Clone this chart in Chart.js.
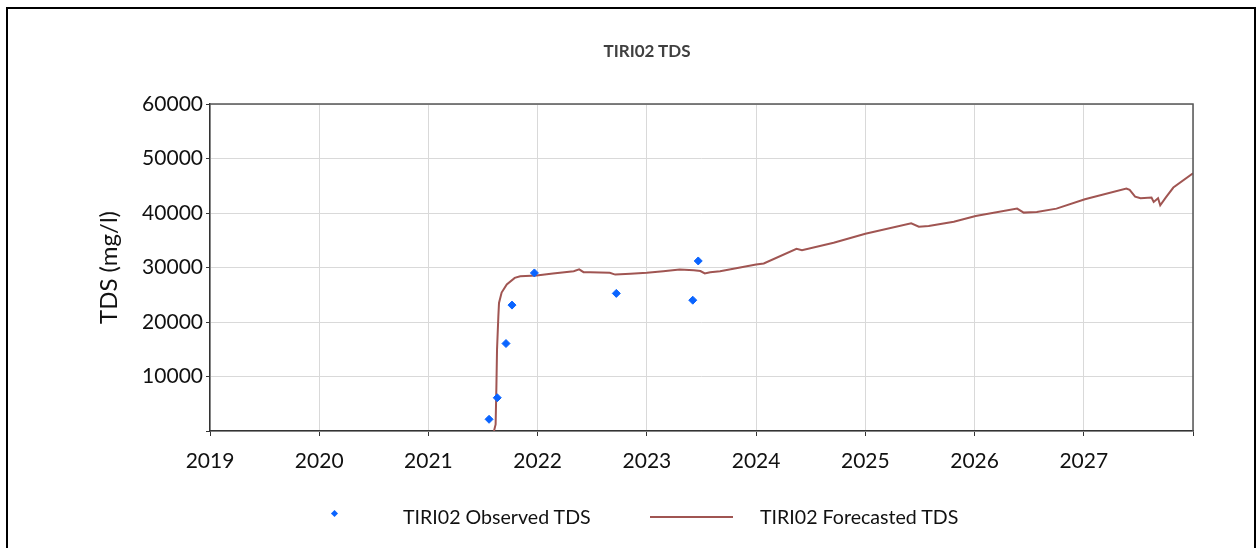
<!DOCTYPE html>
<html>
<head>
<meta charset="utf-8">
<script src="https://cdn.jsdelivr.net/npm/chart.js@4.4.0/dist/chart.umd.min.js"></script>
<style>
  body { margin: 0; background: #fff; font-family: Lato, "Open Sans", sans-serif; }
  #wrap { position: relative; width: 1257px; height: 548px; overflow: hidden; }
  #frame { position: absolute; left: 6px; top: 7px; width: 1246px; height: 560px; border: 2px solid #000; }
  #chart { position: absolute; left: 0; top: 0; }
  #title { position: absolute; left: 647px; top: 40px; transform: translateX(-50%); font: bold 17px Lato, sans-serif; color: #404040; white-space: nowrap; }
  .leg { position: absolute; font-size: 19.6px; color: #111; white-space: nowrap; top: 505px; }
  #diamond { position: absolute; left: 332px; top: 511px; width: 5px; height: 5px; background: #0a64ff; transform: rotate(45deg); }
  #legline { position: absolute; left: 650px; top: 516px; width: 83px; height: 2px; background: #a05552; }
</style>
</head>
<body>
<div id="wrap">
  <div id="frame"></div>
  <canvas id="chart" width="1257" height="548"></canvas>
  <div id="title">TIRI02 TDS</div>
  <div id="diamond"></div>
  <div class="leg" style="left:403px">TIRI02 Observed TDS</div>
  <div id="legline"></div>
  <div class="leg" style="left:760px">TIRI02 Forecasted TDS</div>
</div>
<script>
// observed samples (decimal year, mg/l)
var observedYears = [2021.555, 2021.63, 2021.71, 2021.765, 2021.97, 2022.72, 2023.42, 2023.47];
var observedTds = [2150, 6100, 16050, 23100, 29000, 25250, 24000, 31200];

// forecast curve (decimal year, mg/l)
var forecastYears = [2021.600, 2021.615, 2021.622, 2021.628, 2021.640, 2021.646, 2021.670, 2021.717,
    2021.790, 2021.840, 2021.990, 2022.140, 2022.330, 2022.380, 2022.420, 2022.480, 2022.660,
    2022.710, 2022.850, 2023.000, 2023.150, 2023.300, 2023.430, 2023.490, 2023.530, 2023.580,
    2023.670, 2024.000, 2024.070, 2024.370, 2024.420, 2024.710, 2025.000, 2025.420, 2025.490,
    2025.580, 2025.810, 2026.010, 2026.390, 2026.450, 2026.570, 2026.750, 2027.010, 2027.390,
    2027.420, 2027.470, 2027.520, 2027.620, 2027.640, 2027.680, 2027.700, 2027.750, 2027.820, 2028.000];
var forecastTds = [0, 1200, 8000, 15000, 21000, 23500, 25400, 26900,
    28100, 28400, 28550, 28900, 29330, 29650, 29150, 29150, 29020,
    28700, 28850, 29020, 29330, 29630, 29500, 29350, 28900, 29130,
    29330, 30550, 30740, 33440, 33190, 34550, 36200, 38100, 37500,
    37600, 38400, 39450, 40800, 40070, 40180, 40800, 42520, 44490,
    44230, 43010, 42700, 42830, 42020, 42700, 41410, 42830, 44670, 47300];

var yearMin = 2019, yearMax = 2028;
var tdsMax = 60000;

var observedPts = observedYears.map(function (y, i) { return { x: y, y: observedTds[i] }; });
var forecastPts = forecastYears.map(function (y, i) { return { x: y, y: forecastTds[i] }; });

// top and right edges of the plot box
var plotFrame = {
    id: 'plotFrame',
    afterDraw: function (chart) {
        var a = chart.chartArea, c = chart.ctx;
        c.save();
        c.strokeStyle = '#555';
        c.lineWidth = 1.5;
        c.beginPath();
        c.moveTo(a.left, a.top);
        c.lineTo(a.right, a.top);
        c.lineTo(a.right, a.bottom);
        c.stroke();
        c.restore();
    }
};

var ctx = document.getElementById('chart').getContext('2d');
var chart = new Chart(ctx, {
    type: 'scatter',
    data: {
        datasets: [{
            label: 'TIRI02 Observed TDS',
            data: observedPts,
            pointStyle: 'rectRot',
            pointRadius: 4,
            backgroundColor: '#0a64ff',
            borderColor: '#0a64ff',
            showLine: false,
            order: 0
        }, {
            label: 'TIRI02 Forecasted TDS',
            data: forecastPts,
            showLine: true,
            borderColor: '#a05552',
            borderWidth: 2,
            pointRadius: 0,
            tension: 0,
            order: 1
        }]
    },
    options: {
        responsive: false,
        animation: false,
        layout: { padding: { left: 0, right: 64, top: 104, bottom: 67 } },
        plugins: {
            legend: { display: false },
            tooltip: { enabled: false }
        },
        scales: {
            x: {
                type: 'linear',
                min: yearMin,
                max: yearMax,
                afterFit: function (s) { s.height = 50; },
                ticks: {
                    stepSize: 1,
                    padding: 13,
                    color: '#111',
                    font: { family: 'Lato', size: 21 },
                    maxRotation: 0,
                    callback: function (v) { return v < yearMax ? String(v) : ''; }
                },
                grid: { color: '#d9d9d9', tickColor: '#333', tickLength: 5 },
                border: { color: '#333', width: 1.5 }
            },
            y: {
                min: 0,
                max: tdsMax,
                afterFit: function (s) { s.width = 210; },
                ticks: {
                    stepSize: 5000,
                    padding: 3,
                    color: '#111',
                    font: { family: 'Lato', size: 21 },
                    callback: function (v) { return (v > 0 && v % 10000 === 0) ? String(v) : ''; }
                },
                grid: {
                    color: function (c) { return (c.tick && c.tick.value % 10000 === 0) ? '#d9d9d9' : 'rgba(0,0,0,0)'; },
                    tickColor: '#333',
                    tickLength: 4
                },
                border: { color: '#333', width: 1.5 },
                title: {
                    display: true,
                    text: 'TDS (mg/l)',
                    color: '#111',
                    font: { family: 'Lato', size: 24 },
                    padding: { top: 95, bottom: 0 }
                }
            }
        }
    },
    plugins: [plotFrame]
});
</script>
</body>
</html>
